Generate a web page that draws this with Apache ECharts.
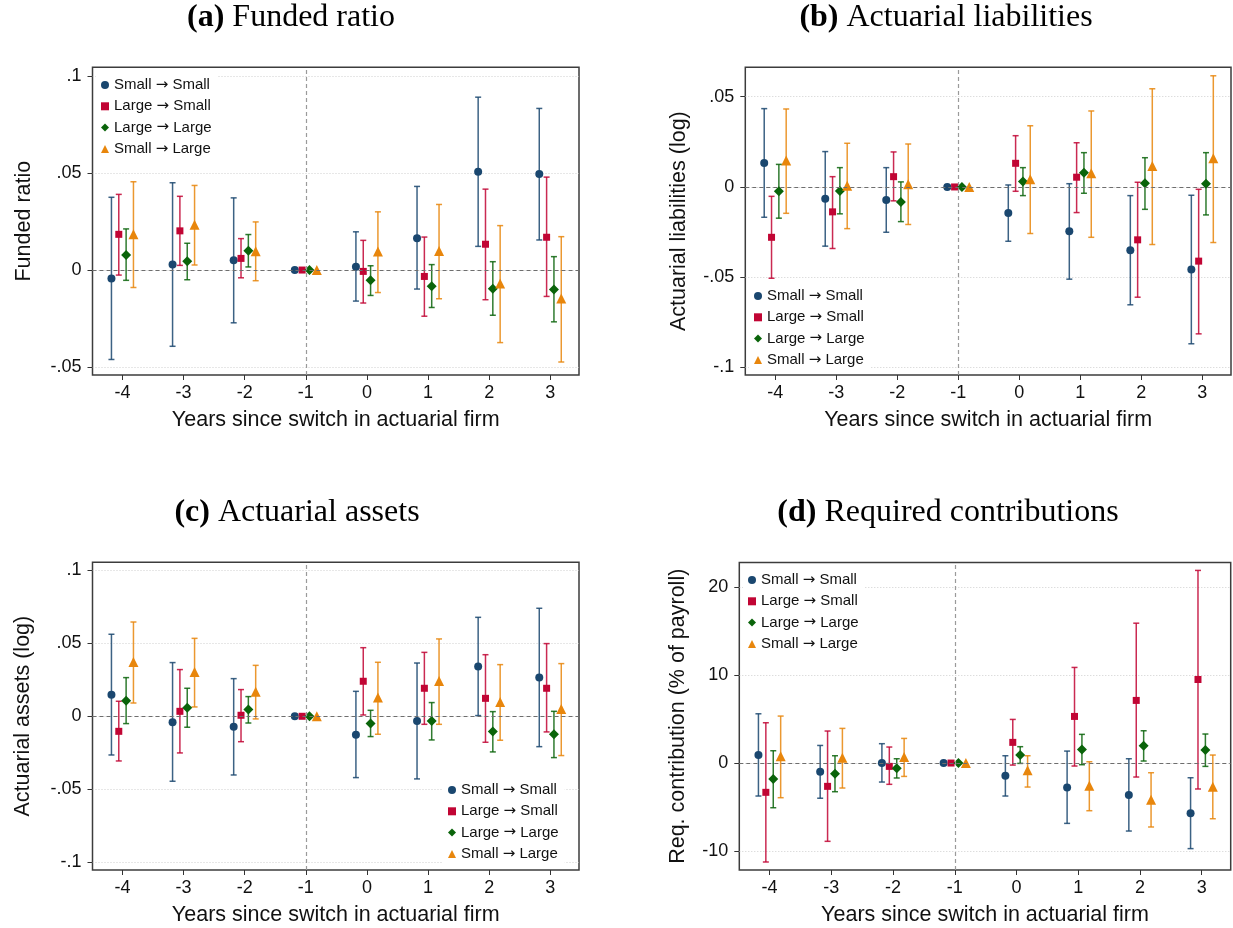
<!DOCTYPE html>
<html>
<head>
<meta charset="utf-8">
<script src="https://cdn.jsdelivr.net/npm/echarts@6/dist/echarts.min.js"></script>
<style>
  html, body { margin: 0; padding: 0; background: #fff; }
  #chart { width: 1233px; height: 928px; }
</style>
</head>
<body>
<div id="chart"></div>
<script>
// Event-study estimates with 95% confidence intervals, by type of actuarial-firm switch
const years = [-4, -3, -2, -1, 0, 1, 2, 3];
const groupNames = ['Small \u2192 Small', 'Large \u2192 Small', 'Large \u2192 Large', 'Small \u2192 Large'];

const yearTicks = [-4, -3, -2, -1, 0, 1, 2, 3];
const frTicks = [-0.05, 0, 0.05, 0.1];
const alTicks = [-0.1, -0.05, 0, 0.05];
const aaTicks = [-0.1, -0.05, 0, 0.05, 0.1];
const rcTicks = [-10, 0, 10, 20];

// (a) Funded ratio
const frSS    = [-0.0043, 0.0029, 0.0050, 0, 0.0017, 0.0164, 0.0507, 0.0495];
const frSS_lo = [-0.0461, -0.0393, -0.0272, null, -0.0160, -0.0098, 0.0122, 0.0155];
const frSS_hi = [0.0375, 0.0450, 0.0372, null, 0.0197, 0.0431, 0.0891, 0.0833];
const frLS    = [0.0184, 0.0202, 0.0060, 0, -0.0007, -0.0033, 0.0133, 0.0169];
const frLS_lo = [-0.0026, 0.0024, -0.0040, null, -0.0170, -0.0238, -0.0153, -0.0136];
const frLS_hi = [0.0390, 0.0380, 0.0162, null, 0.0153, 0.0170, 0.0417, 0.0479];
const frLL    = [0.0077, 0.0045, 0.0100, 0, -0.0053, -0.0083, -0.0097, -0.0100];
const frLL_lo = [-0.0053, -0.0050, 0.0016, null, -0.0131, -0.0193, -0.0233, -0.0267];
const frLL_hi = [0.0212, 0.0138, 0.0183, null, 0.0022, 0.0028, 0.0043, 0.0069];
const frSL    = [0.0184, 0.0233, 0.0097, 0, 0.0095, 0.0098, -0.0070, -0.0147];
const frSL_lo = [-0.0090, 0.0026, -0.0055, null, -0.0116, -0.0148, -0.0374, -0.0474];
const frSL_hi = [0.0455, 0.0436, 0.0248, null, 0.0300, 0.0338, 0.0229, 0.0172];

// (b) Actuarial liabilities (log)
const alSS    = [0.0133, -0.0066, -0.0072, 0, -0.0144, -0.0245, -0.0351, -0.0458];
const alSS_lo = [-0.0168, -0.0328, -0.0251, null, -0.0301, -0.0511, -0.0653, -0.0869];
const alSS_hi = [0.0434, 0.0196, 0.0107, null, 0.0011, 0.0018, -0.0048, -0.0046];
const alLS    = [-0.0279, -0.0138, 0.0057, 0, 0.0131, 0.0054, -0.0293, -0.0411];
const alLS_lo = [-0.0506, -0.0341, -0.0077, null, -0.0024, -0.0142, -0.0611, -0.0814];
const alLS_hi = [-0.0052, 0.0057, 0.0194, null, 0.0284, 0.0245, 0.0026, -0.0013];
const alLL    = [-0.0024, -0.0022, -0.0083, 0, 0.0030, 0.0079, 0.0020, 0.0018];
const alLL_lo = [-0.0173, -0.0149, -0.0192, null, -0.0048, -0.0035, -0.0124, -0.0155];
const alLL_hi = [0.0125, 0.0107, 0.0028, null, 0.0107, 0.0190, 0.0162, 0.0190];
const alSL    = [0.0146, 0.0007, 0.0015, 0, 0.0042, 0.0076, 0.0116, 0.0159];
const alSL_lo = [-0.0146, -0.0231, -0.0208, null, -0.0258, -0.0279, -0.0319, -0.0308];
const alSL_hi = [0.0432, 0.0242, 0.0238, null, 0.0339, 0.0421, 0.0544, 0.0616];

// (c) Actuarial assets (log)
const aaSS    = [0.0148, -0.0041, -0.0071, 0, -0.0126, -0.0032, 0.0342, 0.0265];
const aaSS_lo = [-0.0265, -0.0445, -0.0402, null, -0.0420, -0.0429, 0.0005, -0.0208];
const aaSS_hi = [0.0562, 0.0368, 0.0258, null, 0.0171, 0.0365, 0.0678, 0.0740];
const aaLS    = [-0.0103, 0.0034, 0.0007, 0, 0.0240, 0.0192, 0.0123, 0.0192];
const aaLS_lo = [-0.0306, -0.0251, -0.0174, null, 0.0009, -0.0055, -0.0178, -0.0107];
const aaLS_hi = [0.0103, 0.0320, 0.0183, null, 0.0470, 0.0438, 0.0422, 0.0498];
const aaLL    = [0.0107, 0.0059, 0.0046, 0, -0.0050, -0.0032, -0.0105, -0.0123];
const aaLL_lo = [-0.0050, -0.0075, -0.0046, null, -0.0139, -0.0162, -0.0244, -0.0283];
const aaLL_hi = [0.0265, 0.0192, 0.0135, null, 0.0041, 0.0094, 0.0032, 0.0034];
const aaSL    = [0.0372, 0.0304, 0.0169, 0, 0.0128, 0.0242, 0.0098, 0.0050];
const aaSL_lo = [0.0091, 0.0064, -0.0018, null, -0.0123, -0.0055, -0.0164, -0.0269];
const aaSL_hi = [0.0646, 0.0534, 0.0349, null, 0.0370, 0.0530, 0.0354, 0.0361];

// (d) Required contributions (% of payroll)
const rcSS    = [0.91, -0.98, 0.00, 0, -1.44, -2.77, -3.64, -5.72];
const rcSS_lo = [-3.75, -4.00, -2.16, null, -3.75, -6.86, -7.73, -9.73];
const rcSS_hi = [5.60, 2.00, 2.20, null, 0.83, 1.36, 0.49, -1.67];
const rcLS    = [-3.33, -2.65, -0.38, 0, 2.35, 5.30, 7.12, 9.50];
const rcLS_lo = [-11.25, -8.90, -2.42, null, -0.23, -0.34, -1.59, -2.95];
const rcLS_hi = [4.58, 3.64, 1.82, null, 4.96, 10.87, 15.90, 21.90];
const rcLL    = [-1.82, -1.21, -0.60, 0, 0.91, 1.55, 1.97, 1.48];
const rcLL_lo = [-5.08, -3.26, -1.70, null, -0.04, -0.19, 0.23, -0.38];
const rcLL_hi = [1.40, 0.83, 0.49, null, 1.86, 3.26, 3.67, 3.30];
const rcSL    = [0.76, 0.60, 0.68, 0, -0.83, -2.58, -4.17, -2.69];
const rcSL_lo = [-3.94, -2.84, -1.52, null, -2.73, -5.42, -7.27, -6.33];
const rcSL_hi = [5.34, 3.94, 2.80, null, 0.83, 0.15, -1.10, 0.91];

// ---- styling ----
const colors = ['#1a476f', '#c10534', '#0a640a', '#e8860c'];
const symbols = ['circle', 'rect', 'diamond', 'triangle'];
const symbolSizes = [8, 7, 10, 10];
const offsets = [-0.18, -0.06, 0.06, 0.18];
const SANS = '"Liberation Sans", Arial, sans-serif';
const SERIF = '"Liberation Serif", "DejaVu Serif", serif';

function fmtFrac(v) {
  if (Math.abs(v) < 1e-12) return '0';
  const s = String(+v.toFixed(4));
  return s.replace(/^(-?)0\./, '$1.');
}
function fmtInt(v) { return String(Math.round(v)); }

// legend label: keep the arrow in a font that carries a proper glyph
function legendLabel(name) {
  const parts = name.split(' \u2192 ');
  return '{t|' + parts[0] + '} {arr|\u2192} {t|' + parts[1] + '}';
}

const panels = [
  { tag: '(a)', title: 'Funded ratio', yName: 'Funded ratio',
    est: [frSS, frLS, frLL, frSL], lo: [frSS_lo, frLS_lo, frLL_lo, frSL_lo], hi: [frSS_hi, frLS_hi, frLL_hi, frSL_hi],
    ticks: frTicks, fmt: fmtFrac, yMin: -0.0541, yMax: 0.1045,
    grid: { left: 92.5, top: 67.3, width: 486.5, height: 307.7 },
    legend: { left: 96, top: 73 }, titleAt: [291, 18], nameGap: 57 },
  { tag: '(b)', title: 'Actuarial liabilities', yName: 'Actuarial liabilities (log)',
    est: [alSS, alLS, alLL, alSL], lo: [alSS_lo, alLS_lo, alLL_lo, alSL_lo], hi: [alSS_hi, alLS_hi, alLL_hi, alSL_hi],
    ticks: alTicks, fmt: fmtFrac, yMin: -0.1042, yMax: 0.0663,
    grid: { left: 745.3, top: 67.3, width: 485.7, height: 307.7 },
    legend: { left: 749, top: 284 }, titleAt: [946, 18], nameGap: 55 },
  { tag: '(c)', title: 'Actuarial assets', yName: 'Actuarial assets (log)',
    est: [aaSS, aaLS, aaLL, aaSL], lo: [aaSS_lo, aaLS_lo, aaLL_lo, aaSL_lo], hi: [aaSS_hi, aaLS_hi, aaLL_hi, aaSL_hi],
    ticks: aaTicks, fmt: fmtFrac, yMin: -0.1053, yMax: 0.1055,
    grid: { left: 92.5, top: 562.3, width: 486.5, height: 307.7 },
    legend: { left: 443, top: 778 }, titleAt: [297, 513], nameGap: 58 },
  { tag: '(d)', title: 'Required contributions', yName: 'Req. contribution (% of payroll)',
    est: [rcSS, rcLS, rcLL, rcSL], lo: [rcSS_lo, rcLS_lo, rcLL_lo, rcSL_lo], hi: [rcSS_hi, rcLS_hi, rcLL_hi, rcSL_hi],
    ticks: rcTicks, fmt: fmtInt, yMin: -12.16, yMax: 22.8,
    grid: { left: 739.3, top: 562.5, width: 491.4, height: 307.5 },
    legend: { left: 743, top: 568 }, titleAt: [948, 513], nameGap: 50 }
];

function ciRenderer(color) {
  return function (params, api) {
    const x = api.value(0);
    const top = api.coord([x, api.value(2)]);
    const bot = api.coord([x, api.value(1)]);
    const w = 3;
    const style = { stroke: color, lineWidth: 1.5, opacity: 0.85 };
    return {
      type: 'group',
      children: [
        { type: 'line', shape: { x1: top[0], y1: top[1], x2: bot[0], y2: bot[1] }, style: style },
        { type: 'line', shape: { x1: top[0] - w, y1: top[1], x2: top[0] + w, y2: top[1] }, style: style },
        { type: 'line', shape: { x1: bot[0] - w, y1: bot[1], x2: bot[0] + w, y2: bot[1] }, style: style }
      ]
    };
  };
}

const grids = [], xAxes = [], yAxes = [], series = [], legends = [], graphics = [];

panels.forEach(function (p, pi) {
  grids.push(Object.assign({ show: true, borderColor: '#3c3c3c', borderWidth: 1.5, backgroundColor: '#fff' }, p.grid));

  xAxes.push({
    type: 'value', gridIndex: pi, min: -4.49, max: 3.47, position: 'bottom',
    axisLine: { show: false, onZero: false },
    axisTick: { show: true, length: 5, customValues: yearTicks, lineStyle: { color: '#333', width: 1 } },
    axisLabel: { customValues: yearTicks, fontSize: 18, fontFamily: SANS, color: '#111', margin: 9,
                 formatter: function (v) { return String(Math.round(v)); } },
    splitLine: { show: false },
    name: 'Years since switch in actuarial firm', nameLocation: 'middle', nameGap: 34,
    nameTextStyle: { fontSize: 21.5, fontFamily: SANS, color: '#111' }
  });

  yAxes.push({
    type: 'value', gridIndex: pi, min: p.yMin, max: p.yMax, position: 'left',
    axisLine: { show: false, onZero: false },
    axisTick: { show: true, length: 5, customValues: p.ticks, lineStyle: { color: '#333', width: 1 } },
    axisLabel: { customValues: p.ticks, fontSize: 18, fontFamily: SANS, color: '#111', margin: 11, formatter: p.fmt },
    splitLine: { show: true, lineStyle: { color: '#cfcfcf', type: [1, 2], width: 1 } },
    name: p.yName, nameLocation: 'middle', nameGap: p.nameGap,
    nameTextStyle: { fontSize: 21.5, fontFamily: SANS, color: '#111' }
  });

  // reference lines: zero effect and the last pre-switch year
  series.push({
    type: 'scatter', xAxisIndex: pi, yAxisIndex: pi, data: [], silent: true, z: 1,
    markLine: {
      silent: true, symbol: 'none', animation: false, label: { show: false },
      data: [
        { yAxis: 0, lineStyle: { color: '#6e6e6e', type: [4, 3], width: 1.2 } },
        { xAxis: -1, lineStyle: { color: '#9a9a9a', type: [4, 3], width: 1.2 } }
      ]
    }
  });

  for (let g = 0; g < 4; g++) {
    const ciData = [];
    const ptData = [];
    years.forEach(function (yr, k) {
      const xv = yr + offsets[g];
      ptData.push([xv, p.est[g][k]]);
      if (p.lo[g][k] !== null && p.hi[g][k] !== null) ciData.push([xv, p.lo[g][k], p.hi[g][k]]);
    });
    series.push({
      type: 'custom', xAxisIndex: pi, yAxisIndex: pi, z: 2, silent: true,
      renderItem: ciRenderer(colors[g]),
      encode: { x: 0, y: [1, 2] },
      data: ciData
    });
    series.push({
      type: 'scatter', name: groupNames[g], xAxisIndex: pi, yAxisIndex: pi, z: 3,
      symbol: symbols[g], symbolSize: symbolSizes[g],
      itemStyle: { color: colors[g], opacity: 1 },
      data: ptData
    });
  }

  legends.push({
    orient: 'vertical', left: p.legend.left, top: p.legend.top,
    backgroundColor: '#fff', padding: [4, 6, 4, 5], itemGap: 5.3,
    itemWidth: 8, itemHeight: 8,
    selectedMode: false,
    formatter: legendLabel,
    textStyle: {
      fontSize: 15, fontFamily: SANS, color: '#111', lineHeight: 16,
      rich: {
        t: { fontSize: 15, fontFamily: SANS, color: '#111', lineHeight: 16 },
        arr: { fontSize: 15, fontFamily: '"DejaVu Sans"', color: '#111', lineHeight: 16 }
      }
    },
    data: groupNames.map(function (n, i) { return { name: n, icon: symbols[i] }; })
  });

  graphics.push({
    type: 'text', x: p.titleAt[0], y: p.titleAt[1],
    style: {
      text: '{b|' + p.tag + '} ' + p.title,
      fontFamily: SERIF, fontSize: 32, fill: '#000',
      align: 'center', verticalAlign: 'middle',
      rich: { b: { fontFamily: SERIF, fontSize: 32, fontWeight: 'bold', fill: '#000' } }
    }
  });
});

const chart = echarts.init(document.getElementById('chart'), null, { renderer: 'canvas' });
chart.setOption({
  animation: false,
  backgroundColor: '#fff',
  grid: grids,
  xAxis: xAxes,
  yAxis: yAxes,
  legend: legends,
  graphic: graphics,
  series: series
});
</script>
</body>
</html>
